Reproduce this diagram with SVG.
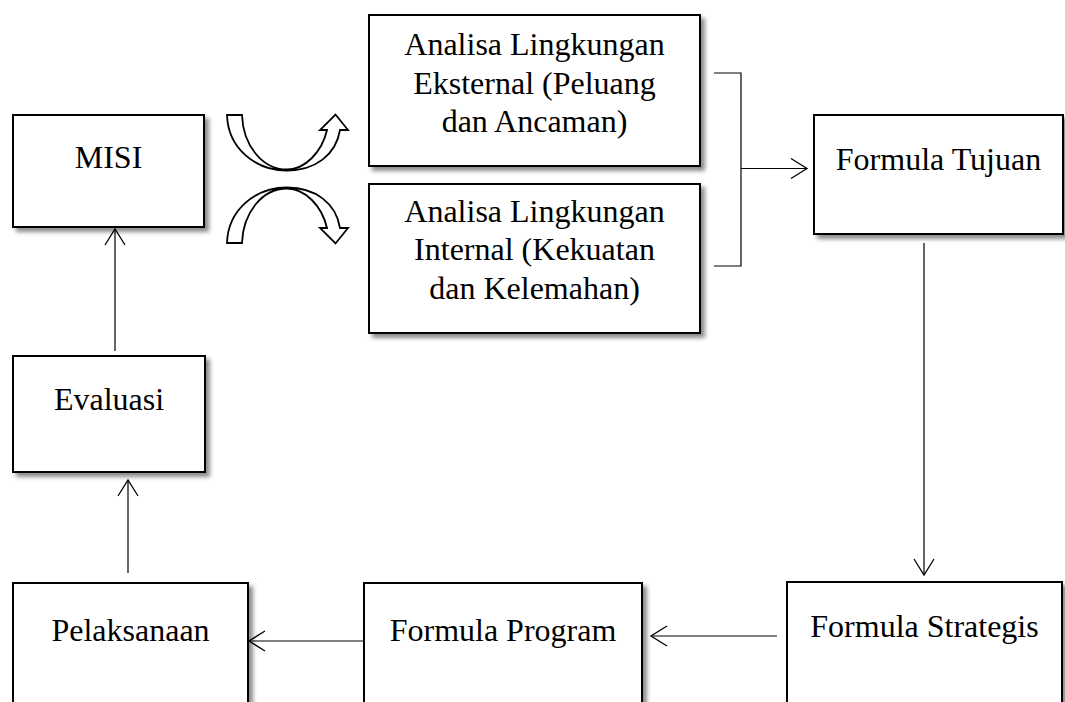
<svg xmlns="http://www.w3.org/2000/svg" width="1065" height="702" viewBox="0 0 1065 702">
<defs>
<filter id="sh" x="-10%" y="-10%" width="130%" height="130%">
<feDropShadow dx="4" dy="4" stdDeviation="2" flood-color="#000" flood-opacity="0.45"/>
</filter>
<marker id="ah" markerUnits="userSpaceOnUse" viewBox="-18 -12 20 24" markerWidth="20" markerHeight="24" refX="0" refY="0" orient="auto" overflow="visible">
<path d="M -16 -10 L 0 0 L -16 10" fill="none" stroke="#000" stroke-width="1.3"/>
</marker>
<style>
.box{fill:#fff;stroke:#000;stroke-width:2;filter:url(#sh);}
.t{font-family:"Liberation Serif","Times New Roman",serif;font-size:32px;fill:#000;text-anchor:middle;}
.c{fill:none;stroke:#000;stroke-width:1.2;}
.arr{marker-end:url(#ah);}
.ca{fill:#fff;stroke:#000;stroke-width:1.8;stroke-linejoin:miter;}
</style>
<path id="curv" d="M 227 115 L 242 115 C 243 145 262 169.5 287 169.5 C 305 169.5 322 152 327 130 L 320 130 L 335.5 114.5 L 348 130 L 340 130 C 336 155 315 170.5 287 170.5 C 255 170.5 228 148 227 115 Z"/>
</defs>
<rect width="1065" height="702" fill="#fff"/>

<g id="misi"><rect class="box" x="13" y="115" width="191" height="112"/><text class="t" x="108.5" y="168">MISI</text></g>
<g id="evaluasi"><rect class="box" x="13" y="356" width="192" height="116"/><text class="t" x="109" y="410">Evaluasi</text></g>
<g id="pelaksanaan"><rect class="box" x="13" y="583" width="235" height="140"/><text class="t" x="130.5" y="641">Pelaksanaan</text></g>
<g id="formula-program"><rect class="box" x="364" y="583" width="278" height="140"/><text class="t" x="503" y="641">Formula Program</text></g>
<g id="formula-strategis"><rect class="box" x="787" y="582" width="275" height="140"/><text class="t" x="924.5" y="637">Formula Strategis</text></g>
<g id="formula-tujuan"><rect class="box" x="814" y="115" width="249" height="119"/><text class="t" x="938.5" y="170">Formula Tujuan</text></g>
<g id="analisa-eksternal"><rect class="box" x="369" y="15" width="331" height="151"/>
<text class="t" x="534.5" y="55">Analisa Lingkungan</text>
<text class="t" x="534.5" y="93.5">Eksternal (Peluang</text>
<text class="t" x="534.5" y="132">dan Ancaman)</text></g>
<g id="analisa-internal"><rect class="box" x="369" y="184" width="331" height="149"/>
<text class="t" x="534.5" y="222">Analisa Lingkungan</text>
<text class="t" x="534.5" y="260">Internal (Kekuatan</text>
<text class="t" x="534.5" y="298.5">dan Kelemahan)</text></g>

<g id="curved-arrows">
<use href="#curv" class="ca"/>
<use href="#curv" class="ca" transform="matrix(1 0 0 -1 0 358)"/>
</g>

<g id="connectors">
<polyline class="c" points="714,73 741,73 741,266 714,266"/>
<line class="c arr" x1="741" y1="168.5" x2="807" y2="168.5"/>
<line class="c arr" x1="924" y1="243" x2="924" y2="575"/>
<line class="c arr" x1="777" y1="636" x2="651" y2="636"/>
<line class="c arr" x1="364" y1="641" x2="249" y2="641"/>
<line class="c arr" x1="128" y1="573" x2="128" y2="480"/>
<line class="c arr" x1="115" y1="351" x2="115" y2="229"/>
</g>
</svg>
